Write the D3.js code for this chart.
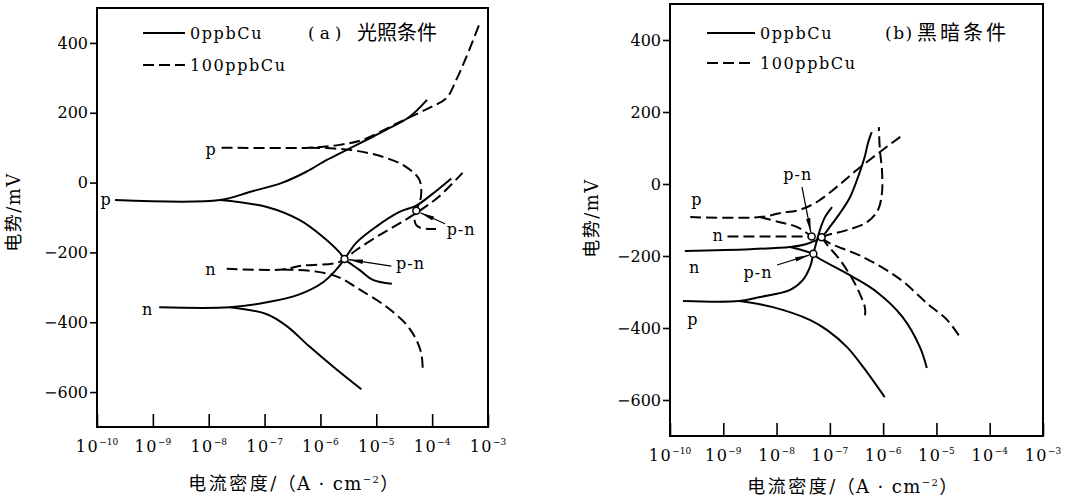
<!DOCTYPE html>
<html>
<head>
<meta charset="utf-8">
<script src="https://cdn.jsdelivr.net/npm/d3@7"></script>
<style>
  body { margin: 0; background: #fff; }
  svg { display: block; }
</style>
</head>
<body>
<svg id="chart" width="1069" height="498"></svg>
<script>
const LATIN = "'DejaVu Serif'";
const CJK = "'Noto Sans CJK SC'";

// ===== Axes =====
const xDomain = [1e-10, 1e-3];
const yDomain = [-700, 500];
const xTicks = [1e-10, 1e-9, 1e-8, 1e-7, 1e-6, 1e-5, 1e-4, 1e-3];
const yTicks = [-600, -400, -200, 0, 200, 400];
const legendNames = ["0ppbCu", "100ppbCu"];

// ===== (a) 光照条件 : [电流密度 A/cm2, 电势 mV] =====
const aSolidP = [[2.1e-10, -50], [1.6e-8, -50], [5.4e-8, -27], [2.1e-7, 0], [5.6e-7, 31], [1.3e-6, 65], [2.9e-6, 93], [6.6e-6, 122], [1.5e-5, 151], [3.9e-5, 188], [8.1e-5, 237]];
const aSolidPCath = [[1.6e-8, -50], [1.1e-7, -70], [4.2e-7, -107], [1.1e-6, -155], [2.2e-6, -200], [2.7e-6, -219], [5.0e-6, -250], [8.5e-6, -278], [1.9e-5, -290]];
const aSolidN = [[1.3e-9, -357], [2.4e-8, -357], [1.1e-7, -343], [4.2e-7, -320], [1.1e-6, -286], [1.9e-6, -250], [2.7e-6, -219], [4.4e-6, -172], [1.0e-5, -126], [2.6e-5, -84], [5.2e-5, -66], [1.0e-4, -33], [2.2e-4, 12]];
const aSolidNCath = [[2.4e-8, -357], [1.1e-7, -377], [2.5e-7, -411], [6.3e-7, -469], [1.9e-6, -534], [5.4e-6, -592]];
const aDashP = [[1.7e-8, 100], [6.3e-7, 100], [2.2e-6, 108], [5.6e-6, 122], [2.6e-5, 173], [8.9e-5, 214], [1.8e-4, 242], [2.7e-4, 294], [4.1e-4, 360], [6.9e-4, 451]];
const aDashPCath = [[6.3e-7, 100], [3.3e-6, 94], [1.3e-5, 74], [3.4e-5, 45], [5.9e-5, 8], [6.3e-5, -41], [5.4e-5, -73], [5.2e-5, -81], [4.8e-5, -99], [5.2e-5, -122], [6.6e-5, -131], [1.17e-4, -133]];
const aDashN = [[2.1e-8, -247], [2.1e-7, -249], [4.2e-7, -239], [2.2e-6, -227], [4.4e-6, -193], [1.0e-5, -156], [2.3e-5, -122], [5.2e-5, -87], [1.3e-4, -41], [3.5e-4, 28]];
const aDashNCath = [[2.1e-7, -249], [8.5e-7, -255], [2.2e-6, -272], [5.0e-6, -306], [1.5e-5, -355], [3.4e-5, -405], [5.2e-5, -450], [6.4e-5, -490], [6.8e-5, -535]];
const aCircles = [[2.7e-6, -219], [5.2e-5, -81]];
const aLabels = [["p", 1.45e-10, -50], ["p", 1.1e-8, 93], ["n", 1.1e-8, -250], ["n", 8.1e-10, -365], ["p-n", 4.1e-5, -235], ["p-n", 3.3e-4, -135]];
const aArrows = [[1.86e-5, -239, 0], [1.7e-4, -118, 1]]; // tail x, tail y, circle index

// ===== (b) 黑暗条件 =====
const bSolidN = [[1.9e-10, -186], [3.2e-9, -181], [1.8e-8, -175], [3.4e-8, -168], [5.2e-8, -158], [7.0e-8, -148], [1.0e-7, -119], [1.55e-7, -81], [2.4e-7, -36], [3.6e-7, 31], [4.5e-7, 75], [5.2e-7, 114], [6.1e-7, 144]];
const bSolidNCath = [[1.8e-8, -175], [3.4e-8, -186], [4.9e-8, -194], [5.6e-8, -202], [2.7e-7, -258], [7.6e-7, -300], [2.3e-6, -369], [4.9e-6, -453], [6.6e-6, -511]];
const bSolidP = [[1.75e-10, -325], [2.0e-9, -325], [4.9e-9, -314], [1.8e-8, -294], [3.1e-8, -267], [4.3e-8, -228], [4.9e-8, -194], [6.5e-8, -128], [8.1e-8, -92], [1.1e-7, -64]];
const bSolidPCath = [[2.0e-9, -325], [8.5e-9, -342], [4.3e-8, -378], [8.9e-8, -406], [2.1e-7, -453], [4.2e-7, -508], [1.07e-6, -592]];
const bDashP = [[2.4e-10, -92], [4.9e-9, -92], [1.15e-8, -81], [2.7e-8, -72], [5.7e-8, -50], [1.35e-7, -8], [3.2e-7, 39], [8.7e-7, 89], [2.1e-6, 131]];
const bDashPCath = [[4.9e-9, -92], [1.15e-8, -106], [2.4e-8, -119], [4.55e-8, -146]];
const bDashN = [[1.2e-9, -146], [1e-8, -146], [4.55e-8, -146]];
const bDashD1 = [[7.0e-8, -148], [8.9e-8, -142], [2.1e-7, -128], [5.0e-7, -106], [8.0e-7, -72], [9.5e-7, -25], [9.5e-7, 39], [8.7e-7, 94], [8.3e-7, 158]];
const bDashD2 = [[7.0e-8, -148], [8.9e-8, -161], [4.2e-7, -203], [2.1e-6, -265], [6.6e-6, -331], [1.6e-5, -378], [2.75e-5, -425]];
const bDashD3 = [[7.0e-8, -148], [8.9e-8, -169], [1.55e-7, -211], [2.6e-7, -262], [3.6e-7, -303], [4.5e-7, -340], [4.6e-7, -360], [4.2e-7, -378]];
const bCircles = [[4.55e-8, -146], [7.0e-8, -148], [4.9e-8, -194]];
const bLabels = [["p", 3.2e-10, -44], ["n", 8e-10, -146], ["n", 2.9e-10, -233], ["p", 2.7e-10, -378], ["p-n", 2.5e-8, 25], ["p-n", 4.5e-9, -247]];
const bArrows = [[3.0e-8, -8, 0], [1.02e-8, -225, 2]];

const panels = [
  {
    left: 97, right: 488, top: 8, bottom: 427,
    solid: [aSolidP, aSolidPCath, aSolidN, aSolidNCath],
    dashed: [aDashP, aDashPCath, aDashN, aDashNCath],
    circles: aCircles, labels: aLabels, arrows: aArrows,
    legend: { x1: 143, x2: 185, y: [33, 65], tx: 190 },
    title: ["(a)", "光照条件"], titleX: [308, 357], titleGap: [5, 0], titleY: 40,
    yLabel: [14, 212], xLabel: [294, 490]
  },
  {
    left: 670, right: 1043, top: 4, bottom: 436,
    solid: [bSolidN, bSolidNCath, bSolidP, bSolidPCath],
    dashed: [bDashP, bDashPCath, bDashN, bDashD1, bDashD2, bDashD3],
    circles: bCircles, labels: bLabels, arrows: bArrows,
    legend: { x1: 707, x2: 755, y: [33, 63], tx: 760 },
    title: ["(b)", "黑暗条件"], titleX: [885, 917], titleGap: [1.5, 3], titleY: 40,
    yLabel: [592, 218], xLabel: [853, 493]
  }
];

const svg = d3.select("#chart");

svg.append("defs").append("marker")
  .attr("id", "arrow")
  .attr("markerUnits", "userSpaceOnUse")
  .attr("markerWidth", 14).attr("markerHeight", 6)
  .attr("refX", 14).attr("refY", 3)
  .attr("orient", "auto")
  .append("path").attr("d", "M0,0.8 L14,3 L0,5.2 z").attr("fill", "#000");

panels.forEach((p) => {
  const x = d3.scaleLog().domain(xDomain).range([p.left, p.right]);
  const y = d3.scaleLinear().domain(yDomain).range([p.bottom, p.top]);
  const g = svg.append("g");

  // y axis (ticks outside)
  g.append("g")
    .attr("transform", `translate(${p.left},0)`)
    .call(d3.axisLeft(y).tickValues(yTicks).tickSize(7).tickPadding(2))
    .call((a) => a.select(".domain").remove())
    .call((a) => a.selectAll("line").attr("stroke", "#000").attr("stroke-width", 1.6))
    .call((a) => a.selectAll("text").style("font-family", LATIN).style("font-size", "16px").attr("fill", "#000"));

  // x axis (ticks inside)
  g.append("g")
    .attr("transform", `translate(0,${p.bottom})`)
    .call(d3.axisBottom(x).tickValues(xTicks).tickSize(-13).tickFormat(() => ""))
    .call((a) => a.select(".domain").remove())
    .call((a) => a.selectAll("line").attr("stroke", "#000").attr("stroke-width", 1.6));

  g.selectAll(".xlab")
    .data(xTicks)
    .enter()
    .append("text")
    .attr("x", (d) => x(d))
    .attr("y", p.bottom + 25)
    .attr("text-anchor", "middle")
    .style("font-family", LATIN)
    .style("font-size", "16px")
    .each(function (d) {
      const t = d3.select(this);
      t.append("tspan").text("10").style("letter-spacing", "1.5px");
      t.append("tspan").attr("dy", -7).style("font-size", "9px")
        .text("\u2212" + Math.round(-Math.log10(d)));
    });

  // frame
  g.append("rect")
    .attr("x", p.left).attr("y", p.top)
    .attr("width", p.right - p.left).attr("height", p.bottom - p.top)
    .attr("fill", "none").attr("stroke", "#000").attr("stroke-width", 2);

  // curves
  const line = d3.line()
    .x((d) => x(d[0]))
    .y((d) => y(d[1]))
    .curve(d3.curveCatmullRom.alpha(0.5));

  g.selectAll(".solid")
    .data(p.solid)
    .enter()
    .append("path")
    .attr("d", line)
    .attr("fill", "none").attr("stroke", "#000").attr("stroke-width", 2);

  g.selectAll(".dashed")
    .data(p.dashed)
    .enter()
    .append("path")
    .attr("d", line)
    .attr("fill", "none").attr("stroke", "#000").attr("stroke-width", 2)
    .attr("stroke-dasharray", "11,5");

  // arrows to p-n points
  p.arrows.forEach(([ax, ay, ci]) => {
    const x0 = x(ax), y0 = y(ay);
    const x1 = x(p.circles[ci][0]), y1 = y(p.circles[ci][1]);
    const len = Math.hypot(x1 - x0, y1 - y0);
    const k = (len - 4.5) / len;
    g.append("line")
      .attr("x1", x0).attr("y1", y0)
      .attr("x2", x0 + (x1 - x0) * k).attr("y2", y0 + (y1 - y0) * k)
      .attr("stroke", "#000").attr("stroke-width", 1.2)
      .attr("marker-end", "url(#arrow)");
  });

  g.selectAll(".pt")
    .data(p.circles)
    .enter()
    .append("circle")
    .attr("cx", (d) => x(d[0]))
    .attr("cy", (d) => y(d[1]))
    .attr("r", 3.5)
    .attr("fill", "#fff").attr("stroke", "#000").attr("stroke-width", 1.5);

  g.selectAll(".lab")
    .data(p.labels)
    .enter()
    .append("text")
    .attr("x", (d) => x(d[1]))
    .attr("y", (d) => y(d[2]))
    .attr("dy", "0.3em")
    .attr("text-anchor", "middle")
    .style("font-family", LATIN)
    .style("font-size", "16px").style("letter-spacing", "1px")
    .text((d) => d[0]);

  // legend
  [0, 1].forEach((i) => {
    g.append("line")
      .attr("x1", p.legend.x1).attr("x2", p.legend.x2)
      .attr("y1", p.legend.y[i]).attr("y2", p.legend.y[i])
      .attr("stroke", "#000").attr("stroke-width", 2)
      .attr("stroke-dasharray", i ? "11,5" : null);
    g.append("text")
      .attr("x", p.legend.tx).attr("y", p.legend.y[i] + 6)
      .style("font-family", LATIN)
      .style("font-size", "16px").style("letter-spacing", "1.6px")
      .text(legendNames[i]);
  });

  // title
  g.append("text").attr("x", p.titleX[0]).attr("y", p.titleY - 1)
    .style("font-family", LATIN).style("font-size", "17px")
    .style("letter-spacing", p.titleGap[0] + "px")
    .text(p.title[0]);
  g.append("text").attr("x", p.titleX[1]).attr("y", p.titleY)
    .style("font-family", CJK).style("font-size", "20px")
    .style("letter-spacing", p.titleGap[1] + "px")
    .text(p.title[1]);

  // axis titles
  const yl = g.append("text")
    .attr("transform", `translate(${p.yLabel[0]},${p.yLabel[1]}) rotate(-90)`)
    .attr("text-anchor", "middle").attr("dy", "0.35em")
    .style("font-size", "18px").style("letter-spacing", "1.5px");
  yl.append("tspan").style("font-family", CJK).text("电势");
  yl.append("tspan").style("font-family", LATIN).text("/mV");

  const xl = g.append("text")
    .attr("x", p.xLabel[0]).attr("y", p.xLabel[1])
    .attr("text-anchor", "middle")
    .style("font-size", "18px").style("letter-spacing", "1.4px");
  xl.append("tspan").style("font-family", CJK).style("letter-spacing", "2.5px").text("电流密度");
  xl.append("tspan").style("font-family", LATIN).text("/");
  xl.append("tspan").style("font-family", CJK).text("（");
  xl.append("tspan").style("font-family", LATIN).text("A · cm");
  xl.append("tspan").style("font-family", LATIN).attr("dy", -7).style("font-size", "10px").text("\u22122");
  xl.append("tspan").style("font-family", CJK).attr("dy", 7).text("）");
});
</script>
</body>
</html>
